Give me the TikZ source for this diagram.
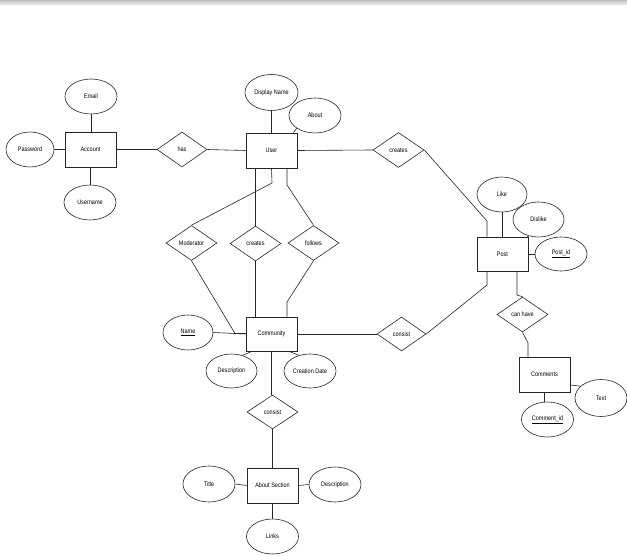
\documentclass[tikz,border=0pt]{standalone}
\usepackage{fontspec}
\setmainfont{Liberation Sans}[FakeStretch=0.85]
\usetikzlibrary{shapes.geometric}
\begin{document}
\begin{tikzpicture}[x=1pt,y=-1pt,
  font=\fontsize{6.5}{7}\selectfont,
  every node/.append style={line width=0.6pt, draw=black!85, fill=white, inner sep=0pt},
  ent/.style={rectangle, minimum width=51pt, minimum height=35pt},
  attr/.style={ellipse, minimum width=52pt, minimum height=35pt},
  rel/.style={diamond, minimum width=51pt, minimum height=35pt},
  conn/.style={line width=0.6pt, draw=black!85}]
\useasboundingbox (0,0) rectangle (627,556);
\fill[white] (0,0) rectangle (627,556);
\shade[top color=black!25, bottom color=white] (0,0) rectangle (627,6);

% Account cluster
\node[ent] (account) at (90.5,149.5) {Account};
\node[attr] (email) at (91,96.5) {Email};
\node[attr, minimum width=48pt] (password) at (30,149.5) {Password};
\node[attr] (username) at (90,202.5) {Username};
\node[rel, minimum width=50pt] (has) at (182,149.5) {has};

% User cluster
\node[ent] (user) at (271.5,150.5) {User};
\node[attr, minimum width=53pt, minimum height=36pt] (dispname) at (271.5,92.5) {Display Name};
\node[attr] (about) at (315,115.5) {About};
\node[rel] (creates1) at (398.5,150) {creates};
\node[rel] (moderator) at (191.5,243) {Moderator};
\node[rel] (creates2) at (255.5,243.5) {creates};
\node[rel] (follows) at (313.5,243) {follows};

% Post cluster
\node[ent, minimum height=34pt] (post) at (502.5,254) {Post};
\node[attr, minimum width=50pt] (like) at (502,194.5) {Like};
\node[attr, minimum width=51pt] (dislike) at (538.5,219.5) {Dislike};
\node[attr, minimum height=34pt] (postid) at (561,254) {\underline{Post\_id}};
\node[rel] (canhave) at (522.5,314.5) {can have};
\node[ent] (comments) at (544.5,374.5) {Comments};
\node[attr, minimum height=37pt] (text) at (601,398) {Text};
\node[attr] (commentid) at (547.5,419.5) {\underline{Comment\_id}};

% Community cluster
\node[ent, minimum height=34pt] (community) at (271.5,334) {Community};
\node[attr, minimum width=50pt] (name) at (188,332.5) {\underline{Name}};
\node[rel, minimum width=49pt, minimum height=34pt] (consist1) at (401.5,334) {consist};
\node[attr, minimum width=51pt, minimum height=34pt] (desc1) at (231.5,371) {Description};
\node[attr, minimum height=34pt] (creation) at (310,371) {Creation Date};
\node[rel, minimum height=34pt] (consist2) at (272.5,412) {consist};

% About section cluster
\node[ent] (aboutsec) at (272.5,485.5) {About Section};
\node[attr, minimum height=36pt] (title) at (209,484) {Title};
\node[attr] (desc2) at (335,484.5) {Description};
\node[attr] (links) at (272.5,536.5) {Links};

% bend points
\coordinate (pc1) at (487,221);
\coordinate (pc2) at (487,285);
\coordinate (pc3) at (517,295);
\coordinate (cc1) at (528,343);
\coordinate (uc1) at (272,183);
\coordinate (uc2) at (287,185);
\coordinate (mc) at (235,333.5);
\coordinate (fc) at (287,302);

% connectors
\draw[conn] (email.south) -- (email.south |- account.north);
\draw[conn] (password.east) -- (account.west);
\draw[conn] (account.south) -- (account.south |- username.north);
\draw[conn] (account.east) -- (has.west);
\draw[conn] (has.east) -- (user.west);
\draw[conn] (dispname.south) -- (dispname.south |- user.north);
\draw[conn] ([xshift=-4pt]user.north east) -- (about.215);
\draw[conn] (user.east) -- (creates1.west);
\draw[conn] (creates1.east) -- (pc1) -- (pc1 |- post.north);
\draw[conn] (like.south) -- (like.south |- post.north);
\draw[conn] (dislike.240) -- ([xshift=-1pt]post.north east);
\draw[conn] (post.east) -- (postid.west);
\draw[conn] (consist1.east) -- (pc2) -- (pc2 |- post.south);
\draw[conn] ([xshift=14.5pt]post.south) -- (pc3) -- (canhave.north);
\draw[conn] (canhave.south) -- (cc1) -- (cc1 |- comments.north);
\draw[conn] ([yshift=-10.5pt]comments.east) -- (text.150);
\draw[conn] (comments.south) -- (comments.south |- commentid.north);
\draw[conn] (user.south) -- (uc1) -- (moderator.north);
\draw[conn] ([xshift=-16pt]user.south) -- (creates2.north);
\draw[conn] ([xshift=15.5pt]user.south) -- (uc2) -- (follows.north);
\draw[conn] (moderator.south) -- (mc) -- (mc -| community.west);
\draw[conn] (name.east) -- (community.west);
\draw[conn] (creates2.south) -- (creates2.south |- community.north);
\draw[conn] (follows.south) -- (fc) -- (fc |- community.north);
\draw[conn] (community.east) -- (consist1.west);
\draw[conn] (desc1.55) -- ([xshift=-19.5pt]community.south);
\draw[conn] (creation.125) -- ([xshift=17.5pt]community.south);
\draw[conn] (community.south) -- (community.south |- consist2.north);
\draw[conn] (consist2.south) -- (consist2.south |- aboutsec.north);
\draw[conn] (title.east) -- (aboutsec.west);
\draw[conn] (aboutsec.east) -- (desc2.west);
\draw[conn] (aboutsec.south) -- (aboutsec.south |- links.north);
\end{tikzpicture}
\end{document}
